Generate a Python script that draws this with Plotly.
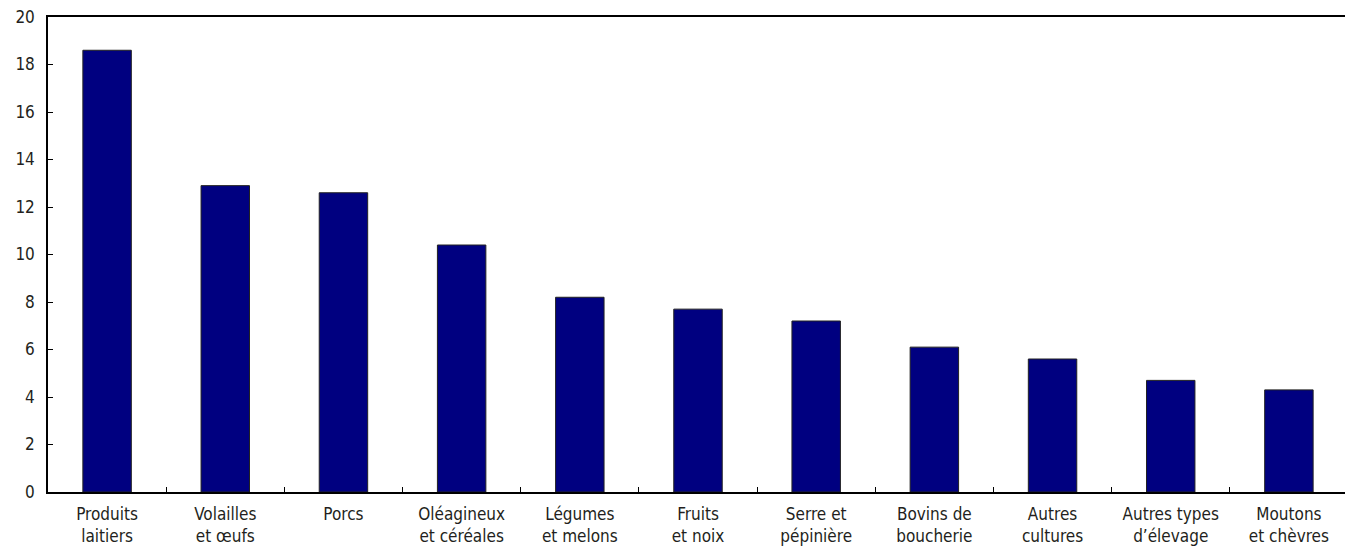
import plotly.graph_objects as go

categories = ["Produits<br>laitiers", "Volailles<br>et œufs", "Porcs", "Oléagineux<br>et céréales",
              "Légumes<br>et melons", "Fruits<br>et noix", "Serre et<br>pépinière", "Bovins de<br>boucherie",
              "Autres<br>cultures", "Autres types<br>d’élevage", "Moutons<br>et chèvres"]
values = [18.6, 12.9, 12.6, 10.4, 8.2, 7.7, 7.2, 6.1, 5.6, 4.7, 4.3]
y_ticks = [0, 2, 4, 6, 8, 10, 12, 14, 16, 18, 20]

FONT = "Liberation Sans Narrow, Arial Narrow, DejaVu Sans Condensed, sans-serif"

fig = go.Figure(go.Bar(
    x=categories, y=values,
    marker=dict(color="#000080", line=dict(color="#222222", width=1)),
    width=0.41,
))

# page body has an 8px default margin; compensate so the plot lands where the reference has it
fig.update_layout(
    width=1345, height=542,
    margin=dict(l=40, r=5, t=9, b=58, autoexpand=False),
    paper_bgcolor="white", plot_bgcolor="white",
    font=dict(family=FONT, size=17, color="#231f20"),
    showlegend=False,
)
fig.update_xaxes(
    type="category", showline=True, linecolor="#000000", linewidth=1.5, mirror=True,
    ticks="inside", tickson="boundaries", ticklen=5, tickcolor="#000000",
    showgrid=False, tickfont=dict(family=FONT, size=17), automargin=False,
    ticklabelstandoff=6, ticklabeloverflow="allow",
)
fig.update_yaxes(
    range=[0, 20], tickvals=y_ticks, showline=True, linecolor="#000000", linewidth=1.5, mirror=True,
    ticks="inside", ticklen=5, tickcolor="#000000", showgrid=False, zeroline=False,
    tickfont=dict(family=FONT, size=17), ticklabelstandoff=8, automargin=False,
    ticklabeloverflow="allow",
)
fig.write_html("out.html")
